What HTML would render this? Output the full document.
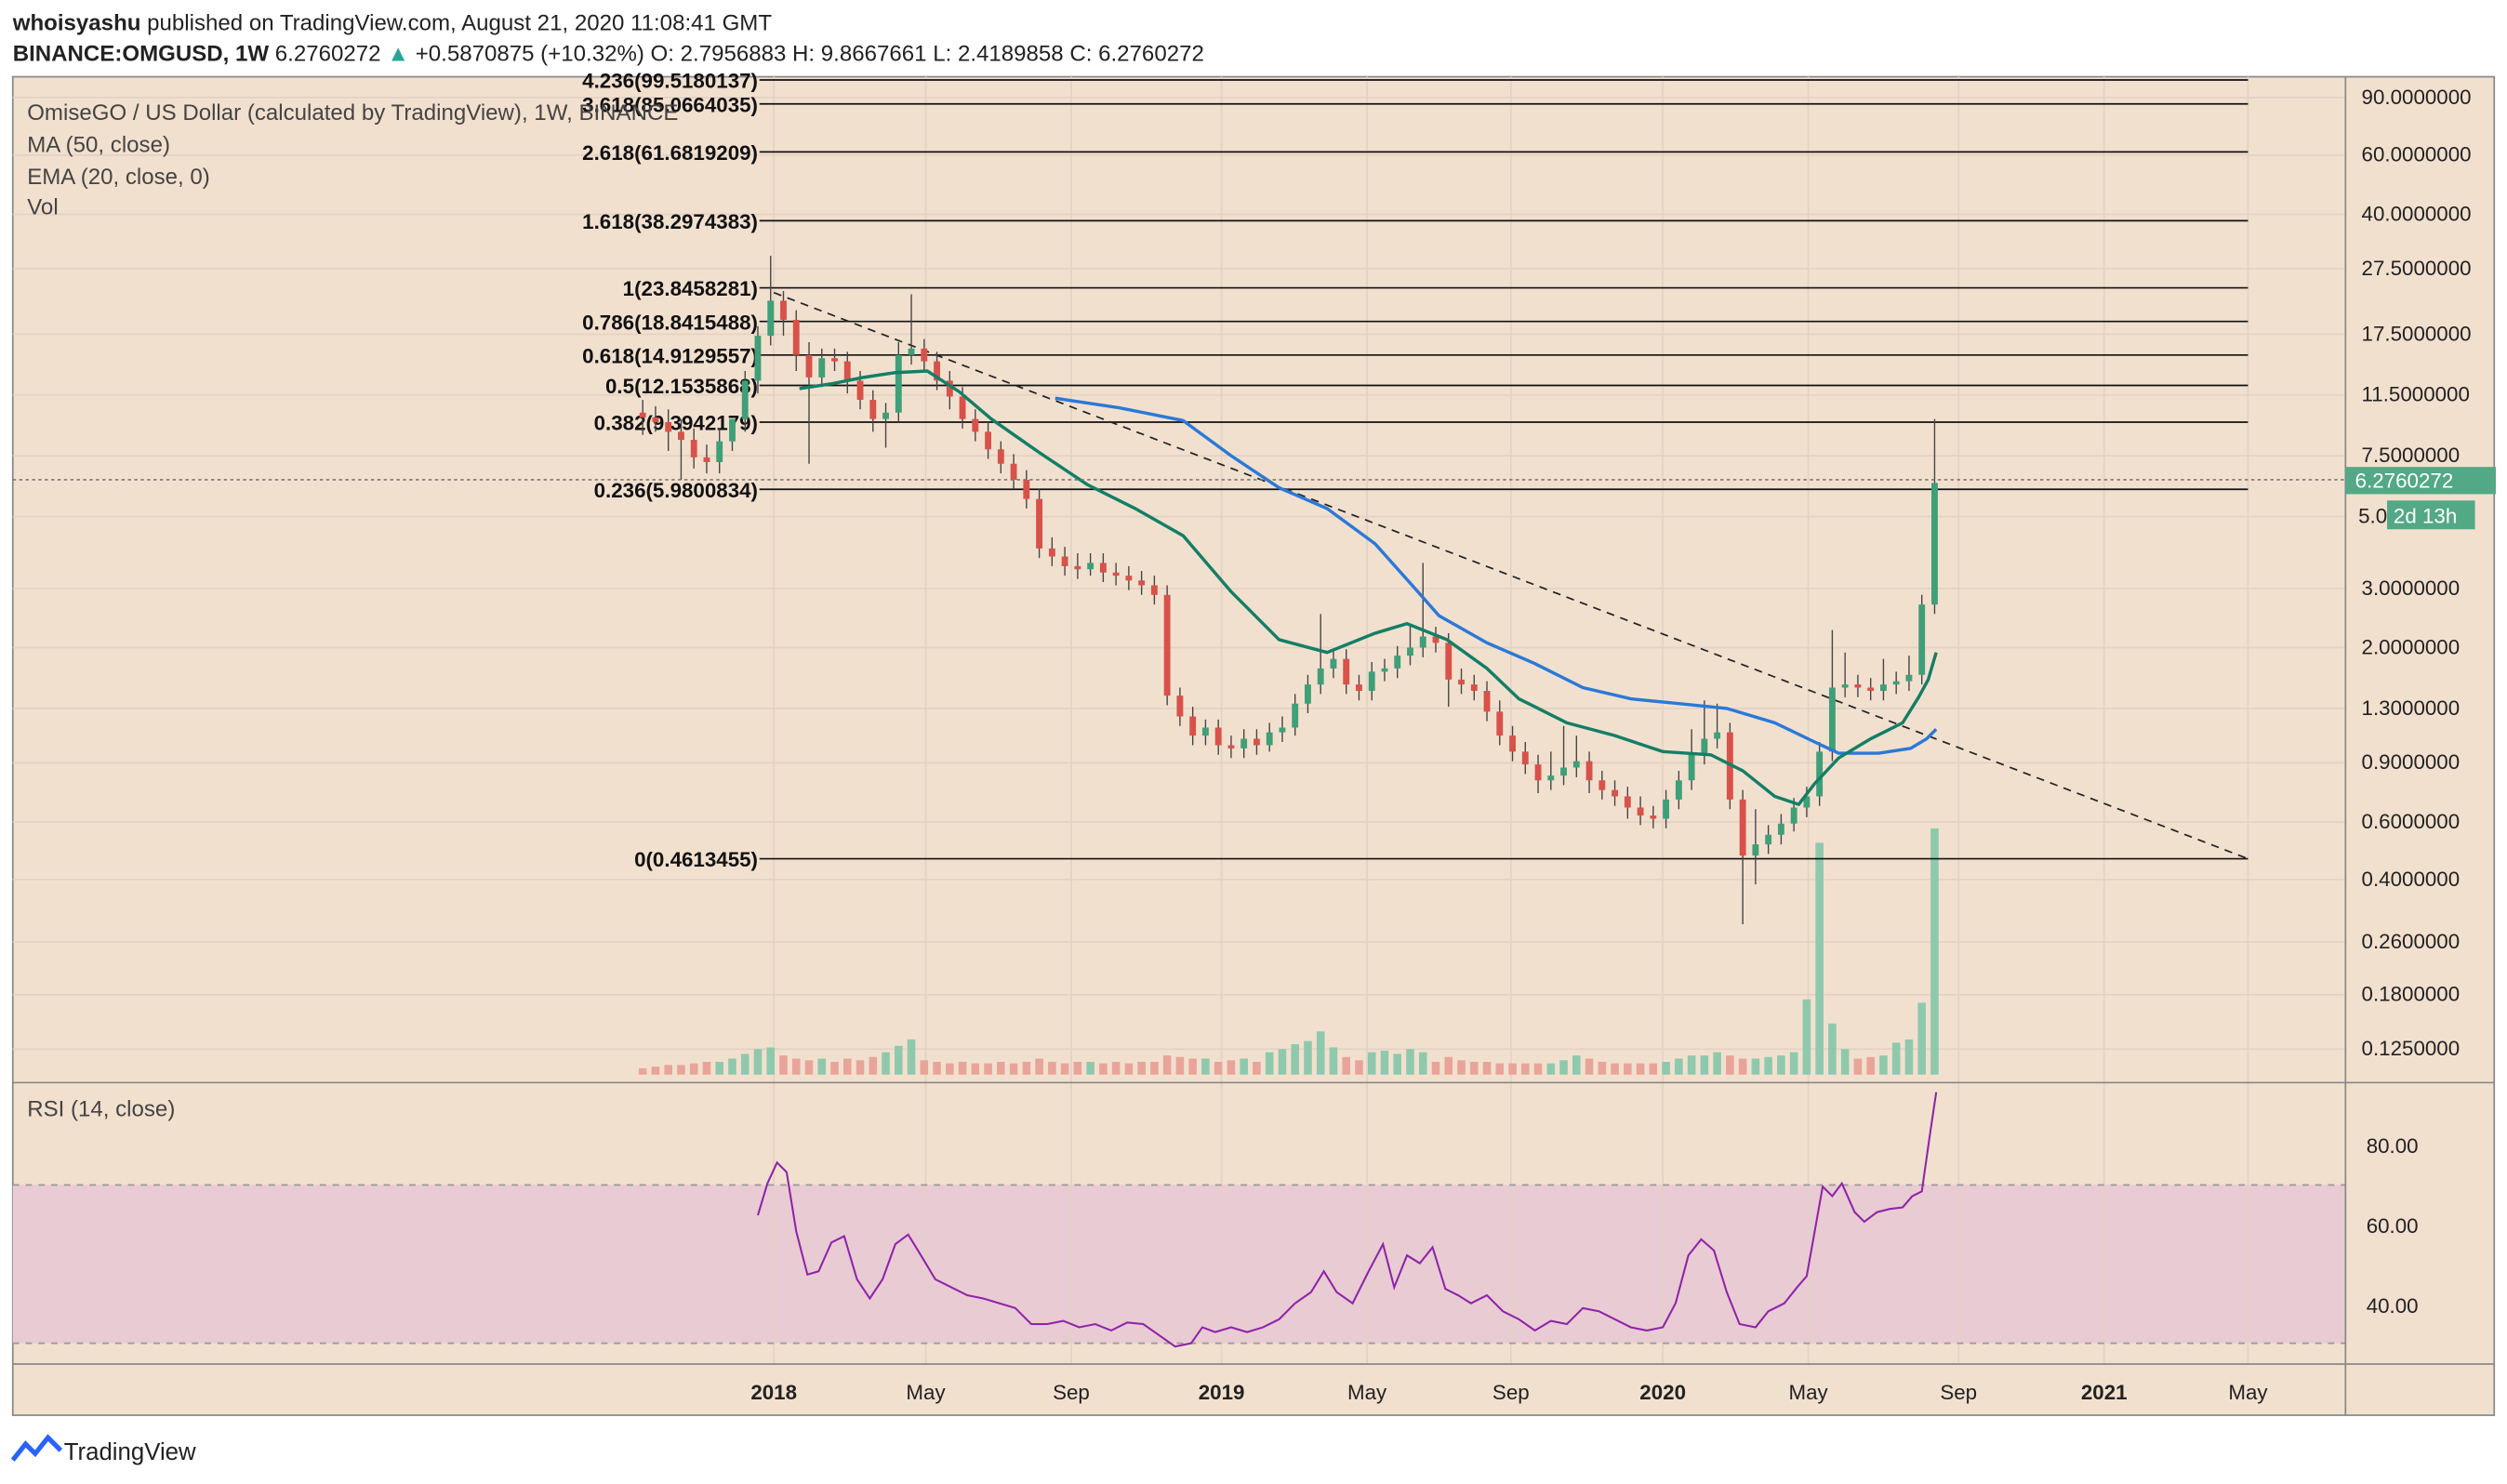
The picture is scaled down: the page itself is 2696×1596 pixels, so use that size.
<!DOCTYPE html>
<html><head><meta charset="utf-8"><style>
html,body{margin:0;padding:0;background:#fff;}
svg{display:block;font-family:"Liberation Sans",sans-serif;}
</style></head><body>
<svg width="2696" height="1596" viewBox="0 0 1568 928" preserveAspectRatio="none" xmlns="http://www.w3.org/2000/svg">
<rect width="1568" height="928" fill="#fff"/>
<text x="8" y="19" font-size="14" font-weight="bold" fill="#222">whoisyashu <tspan font-weight="normal">published on TradingView.com, August 21, 2020 11:08:41 GMT</tspan></text>
<text x="8" y="38" font-size="14" font-weight="bold" fill="#222">BINANCE:OMGUSD, 1W <tspan font-weight="normal">6.2760272 <tspan fill="#26a69a">▲</tspan> +0.5870875 (+10.32%) O: 2.7956883 H: 9.8667661 L: 2.4189858 C: 6.2760272</tspan></text>
<rect x="8" y="48" width="1552" height="837" fill="#f2e0cf" stroke="#888" stroke-width="1"/>
<rect x="8" y="741" width="1459" height="99" fill="#e9cbd3"/>
<g stroke="#e3d2c4" stroke-width="1">
<path d="M8 61H1467M8 97H1467M8 134H1467M8 168H1467M8 209H1467M8 247H1467M8 285H1467M8 323H1467M8 368H1467M8 405H1467M8 443H1467M8 477H1467M8 514H1467M8 550H1467M8 589H1467M8 622H1467M8 656H1467"/>
<path d="M484 48V853M579 48V853M670 48V853M764 48V853M855 48V853M945 48V853M1040 48V853M1131 48V853M1225 48V853M1316 48V853M1406 48V853"/>
</g>
<line x1="8" y1="741" x2="1467" y2="741" stroke="#999" stroke-dasharray="4,4"/>
<line x1="8" y1="840" x2="1467" y2="840" stroke="#999" stroke-dasharray="4,4"/>
<line x1="8" y1="677" x2="1560" y2="677" stroke="#888"/>
<line x1="8" y1="853" x2="1560" y2="853" stroke="#888"/>
<line x1="1467" y1="48" x2="1467" y2="885" stroke="#888"/>

<!-- volume -->
<path fill="none" stroke="#e9a49a" stroke-width="5" d="M402 672V668M410 672V667M418 672V666M426 672V666M434 672V665M442 672V664M490 672V660M498 672V662M506 672V663M522 672V664M530 672V662M538 672V663M546 672V661M578 672V663M586 672V664M594 672V665M602 672V664M610 672V665M618 672V665M626 672V664M634 672V665M642 672V664M650 672V662M658 672V664M666 672V665M674 672V664M690 672V665M698 672V664M706 672V665M714 672V664M722 672V664M730 672V660M738 672V661M746 672V662M762 672V664M770 672V663M786 672V664M842 672V661M850 672V663M898 672V664M906 672V661M914 672V663M922 672V664M930 672V664M938 672V665M946 672V665M954 672V665M962 672V665M994 672V662M1002 672V664M1010 672V665M1018 672V665M1026 672V665M1034 672V665M1082 672V660M1090 672V662M1162 672V662M1170 672V661"/>
<path fill="none" stroke="#8fc9ad" stroke-width="5" d="M450 672V664M458 672V662M466 672V659M474 672V656M482 672V655M514 672V662M554 672V658M562 672V654M570 672V650M682 672V664M754 672V662M778 672V662M794 672V658M802 672V656M810 672V653M818 672V651M826 672V645M834 672V655M858 672V658M866 672V657M874 672V659M882 672V656M890 672V658M970 672V665M978 672V663M986 672V660M1042 672V664M1050 672V662M1058 672V660M1066 672V660M1074 672V658M1098 672V662M1106 672V661M1114 672V660M1122 672V658M1130 672V625M1138 672V527M1146 672V640M1154 672V656M1178 672V660M1186 672V652M1194 672V650M1202 672V627M1210 672V518"/>

<!-- fib -->
<g stroke="#111" stroke-width="1">
<path d="M475 50H1406M475 65H1406M475 95H1406M475 138H1406M475 180H1406M475 201H1406M475 222H1406M475 241H1406M475 264H1406M475 306H1406M475 537H1406"/>
</g>
<g font-size="13" font-weight="bold" fill="#111" text-anchor="end">
<text x="474" y="55">4.236(99.5180137)</text>
<text x="474" y="70">3.618(85.0664035)</text>
<text x="474" y="100">2.618(61.6819209)</text>
<text x="474" y="143">1.618(38.2974383)</text>
<text x="474" y="185">1(23.8458281)</text>
<text x="474" y="206">0.786(18.8415488)</text>
<text x="474" y="227">0.618(14.9129557)</text>
<text x="474" y="246">0.5(12.1535868)</text>
<text x="474" y="269">0.382(9.3942179)</text>
<text x="474" y="311">0.236(5.9800834)</text>
<text x="474" y="542">0(0.4613455)</text>
</g>
<line x1="484" y1="183" x2="1406" y2="537" stroke="#222" stroke-dasharray="5,4" stroke-width="1"/>

<!-- wicks -->
<path fill="none" stroke="#444" stroke-width="0.8" d="M402 250V272M410 254V270M418 256V282M426 262V300M434 268V293M442 278V296M450 268V296M458 268V282M466 232V270M474 204V246M482 160V216M490 182V210M498 194V232M506 214V290M514 218V242M522 218V232M530 220V246M538 232V256M546 244V270M554 252V280M562 214V264M570 184V228M578 212V232M586 220V244M594 232V256M602 242V268M610 256V276M618 264V287M626 276V296M634 284V306M642 294V318M650 306V349M658 336V354M666 342V360M674 346V362M682 346V360M690 346V364M698 352V366M706 354V369M714 357V372M722 360V378M730 366V441M738 430V454M746 442V466M754 450V466M762 450V472M770 460V474M778 456V474M786 456V472M794 452V470M802 448V464M810 434V460M818 422V446M826 384V434M834 406V424M842 406V434M850 422V438M858 414V438M866 412V426M874 404V424M882 390V416M890 352V411M898 392V408M906 396V442M914 418V434M922 422V438M930 426V451M938 438V466M946 454V476M954 464V484M962 472V496M970 470V494M978 454V491M986 460V486M994 470V496M1002 482V500M1010 488V504M1018 492V512M1026 498V516M1034 504V518M1042 494V518M1050 482V506M1058 456V494M1066 438V478M1074 440V468M1082 452V506M1090 494V578M1098 506V553M1106 516V534M1114 509V528M1122 499V520M1130 492V511M1138 464V504M1146 394V476M1154 408V436M1162 422V436M1170 424V438M1178 412V438M1186 420V434M1194 410V432M1202 372V428M1210 262V384"/>
<!-- red bodies -->
<path fill="none" stroke="#d8524a" stroke-width="4" d="M402 258V261M410 261V264M418 264V270M426 270V275M434 275V286M442 286V289M490 188V200M498 200V222M506 222V236M522 224V226M530 226V238M538 238V250M546 250V262M578 218V226M586 226V238M594 238V248M602 248V262M610 262V270M618 270V281M626 281V290M634 290V300M642 300V312M650 312V343M658 343V348M666 348V354M674 354V356M690 352V358M698 358V360M706 360V363M714 363V366M722 366V372M730 372V435M738 435V448M746 448V460M762 455V466M770 466V468M786 462V466M842 412V428M850 428V432M898 398V402M906 402V425M914 425V428M922 428V432M930 432V445M938 445V460M946 460V470M954 470V478M962 478V488M994 476V488M1002 488V494M1010 494V498M1018 498V505M1026 505V510M1034 510V512M1082 458V500M1090 500V535M1162 428V430M1170 430V432"/>
<!-- green bodies -->
<path fill="none" stroke="#3f9f78" stroke-width="4" d="M450 276V289M458 262V276M466 238V262M474 210V238M482 188V210M514 224V236M554 258V262M562 222V258M570 218V222M682 352V356M754 455V460M778 462V468M794 458V466M802 455V458M810 440V455M818 428V440M826 418V428M834 412V418M858 420V432M866 418V420M874 410V418M882 405V410M890 398V405M970 485V488M978 480V485M986 476V480M1042 500V512M1050 488V500M1058 472V488M1066 462V472M1074 458V462M1098 528V535M1106 522V528M1114 515V522M1122 505V515M1130 498V505M1138 470V498M1146 430V470M1154 428V430M1178 428V432M1186 426V428M1194 422V426M1202 378V422M1210 302V378"/>

<polyline fill="none" stroke="#2a79d8" stroke-width="2" points="660,249 700,255 740,263 770,285 800,305 830,318 860,340 885,368 900,385 930,402 960,415 990,430 1020,437 1050,440 1080,443 1110,452 1135,464 1150,471 1175,471 1195,468 1205,462 1211,456"/>
<polyline fill="none" stroke="#127f66" stroke-width="2" points="500,243 520,240 540,236 560,233 580,232 600,245 620,262 650,283 680,303 710,318 740,335 770,370 800,400 830,408 860,396 880,390 905,400 930,418 950,437 980,452 1010,460 1040,470 1070,472 1090,482 1110,498 1125,503 1135,490 1150,474 1170,462 1190,452 1200,436 1206,425 1211,408"/>
<line x1="8" y1="300" x2="1467" y2="300" stroke="#777" stroke-dasharray="2,2"/>

<g font-size="13" fill="#222">
<text x="1477" y="65">90.0000000</text><text x="1477" y="101">60.0000000</text><text x="1477" y="138">40.0000000</text><text x="1477" y="172">27.5000000</text><text x="1477" y="213">17.5000000</text><text x="1477" y="251">11.5000000</text><text x="1477" y="289">7.5000000</text><text x="1477" y="372">3.0000000</text><text x="1477" y="409">2.0000000</text><text x="1477" y="447">1.3000000</text><text x="1477" y="481">0.9000000</text><text x="1477" y="518">0.6000000</text><text x="1477" y="554">0.4000000</text><text x="1477" y="593">0.2600000</text><text x="1477" y="626">0.1800000</text><text x="1477" y="660">0.1250000</text>
</g>
<rect x="1467" y="292" width="94" height="17" fill="#53a886"/>
<text x="1473" y="305" font-size="13" fill="#fff">6.2760272</text>
<rect x="1493" y="313" width="55" height="18" fill="#53a886"/>
<text x="1475" y="327" font-size="13" fill="#222">5.0</text>
<text x="1497" y="327" font-size="13" fill="#fff">2d 13h</text>
<g font-size="14" fill="#444">
<text x="17" y="75">OmiseGO / US Dollar (calculated by TradingView), 1W, BINANCE</text>
<text x="17" y="95">MA (50, close)</text>
<text x="17" y="115">EMA (20, close, 0)</text>
<text x="17" y="134">Vol</text>
<text x="17" y="698">RSI (14, close)</text>
</g>
<polyline fill="none" stroke="#8e24aa" stroke-width="1.2" points="474,760 480,740 486,727 492,733 498,770 505,797 512,795 520,777 528,773 536,800 544,812 552,800 560,778 568,772 576,785 585,800 595,805 605,810 615,812 625,815 635,818 645,828 655,828 665,826 675,830 685,828 695,832 705,827 715,828 725,835 735,842 745,840 752,830 760,833 770,830 780,833 790,830 800,825 810,815 820,808 828,795 836,808 846,815 856,795 865,778 872,805 880,785 888,790 896,780 904,806 912,810 920,815 930,810 940,820 950,825 960,832 970,826 980,828 990,818 1000,820 1010,825 1020,830 1030,832 1040,830 1048,815 1056,785 1064,775 1072,782 1080,808 1088,828 1098,830 1106,820 1116,815 1124,805 1130,798 1140,742 1146,748 1152,740 1160,758 1166,764 1174,758 1182,756 1190,755 1196,748 1202,745 1207,710 1211,683"/>
<g font-size="13" fill="#222">
<text x="1480" y="721">80.00</text><text x="1480" y="771">60.00</text><text x="1480" y="821">40.00</text>
</g>
<g font-size="13" fill="#222" text-anchor="middle">
<text x="484" y="875" font-weight="bold">2018</text><text x="579" y="875">May</text><text x="670" y="875">Sep</text>
<text x="764" y="875" font-weight="bold">2019</text><text x="855" y="875">May</text><text x="945" y="875">Sep</text>
<text x="1040" y="875" font-weight="bold">2020</text><text x="1131" y="875">May</text><text x="1225" y="875">Sep</text>
<text x="1316" y="875" font-weight="bold">2021</text><text x="1406" y="875">May</text>
</g>
<g transform="translate(8,897)"><path d="M0,16 L8,6 L14,12 L22,2 L30,10" fill="none" stroke="#2962ff" stroke-width="3"/><text x="32" y="16" font-size="15" fill="#222">TradingView</text></g>
</svg>
</body></html>
